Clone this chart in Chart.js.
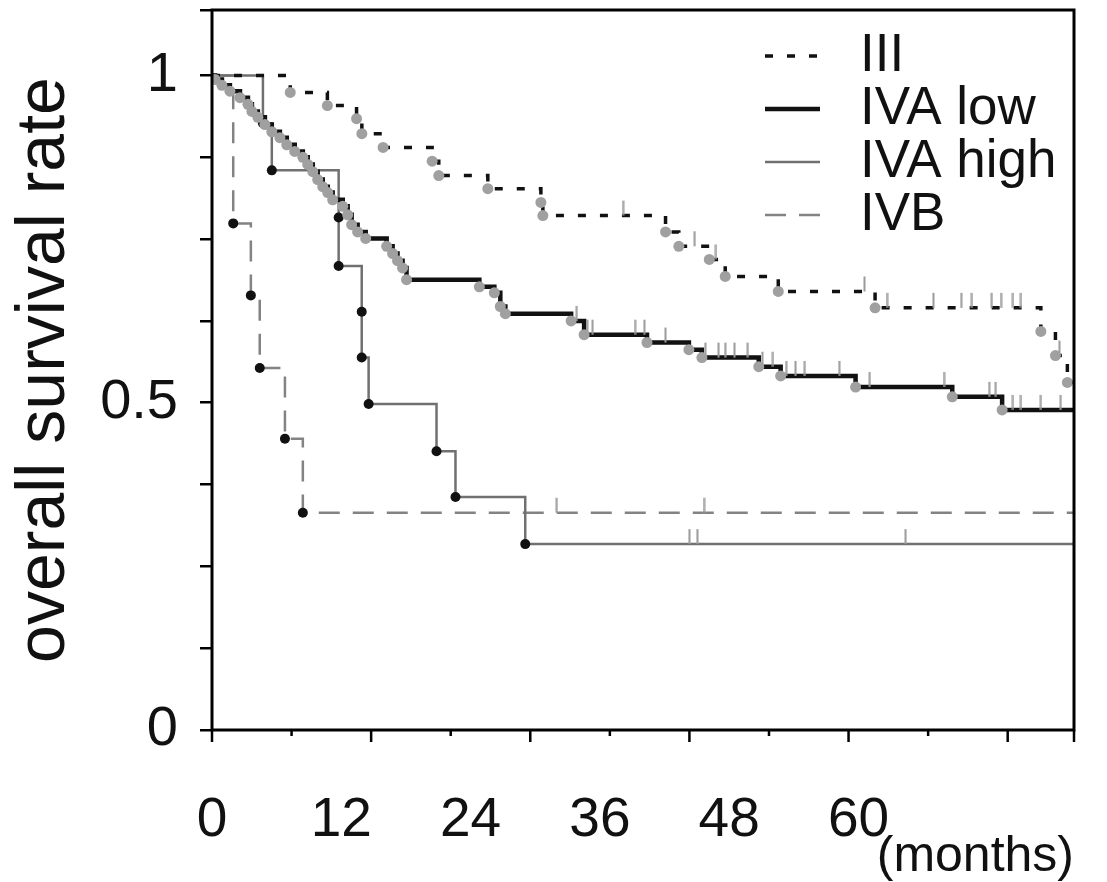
<!DOCTYPE html>
<html lang="en">
<head>
<meta charset="UTF-8">
<title>Overall survival by stage</title>
<script src="https://cdn.jsdelivr.net/npm/chart.js@4"></script>
<style>
  html, body { margin: 0; padding: 0; background: #fff; }
  #wrap { width: 1107px; height: 882px; }
</style>
</head>
<body>
<div id="wrap"><canvas id="km"></canvas></div>
<script>
// event times (months) and survival just after each event
const iiiTime = [5.9, 8.7, 10.9, 11.3, 12.9, 16.6, 17.1, 20.8, 24.8, 24.95, 34.2, 35.2, 37.5, 38.7, 42.7, 50.0, 62.5, 63.6, 64.5];
const iiiSurv = [0.974, 0.954, 0.934, 0.911, 0.890, 0.869, 0.847, 0.827, 0.806, 0.786, 0.761, 0.739, 0.719, 0.693, 0.670, 0.645, 0.609, 0.572, 0.531];
const iiiCensor = [31.0, 36.4, 38.0, 49.2, 50.9, 54.4, 56.5, 57.3, 58.8, 59.5, 60.4, 61.0, 63.9];

const lowTime = [0.23, 0.75, 1.35, 2.11, 2.71, 3.01, 3.46, 3.99, 4.51, 5.12, 5.64, 6.24, 6.85, 7.22, 7.6, 7.97, 8.35, 8.73, 9.1, 9.86,
  10.23, 10.53, 10.98, 11.59, 13.17, 13.62, 13.99, 14.37, 14.67, 20.16, 21.29, 21.74, 22.12, 27.08, 28.06, 32.8, 35.96, 36.94,
  41.23, 42.88, 48.53, 55.82, 59.58];
const lowSurv = [0.994, 0.985, 0.976, 0.966, 0.956, 0.945, 0.936, 0.925, 0.914, 0.905, 0.894, 0.884, 0.875, 0.864, 0.853, 0.841, 0.830, 0.821, 0.810, 0.800,
  0.787, 0.772, 0.761, 0.751, 0.739, 0.728, 0.717, 0.706, 0.688, 0.677, 0.668, 0.647, 0.636, 0.625, 0.604, 0.592, 0.581, 0.569,
  0.555, 0.541, 0.524, 0.509, 0.489];
const lowCensor = [27.5, 28.3, 28.7, 31.9, 32.6, 34.2, 37.2, 38.2, 38.7, 39.4, 40.4, 41.5, 42.3, 43.3, 44.0, 44.7, 47.3, 49.6,
  55.2, 58.6, 59.1, 60.4, 61.0, 62.5, 64.0];

const highTime = [3.84, 4.51, 9.55, 9.55, 11.29, 11.29, 11.81, 16.93, 18.36, 23.62];
const highSurv = [0.927, 0.855, 0.783, 0.709, 0.639, 0.569, 0.498, 0.426, 0.356, 0.284];
const highCensor = [36.0, 36.6, 52.3];

const ivbTime = [1.6, 2.93, 3.6, 5.5, 6.85];
const ivbSurv = [0.774, 0.664, 0.553, 0.445, 0.332];
const ivbCensor = [26.0, 37.1];

const groupNames = ['III', 'IVA low', 'IVA high', 'IVB'];
const xTickLabels = ['0', '12', '24', '36', '48', '60'];
const yTickValues = [0, 0.5, 1];
const yTickLabels = ['0', '0.5', '1'];
const monthTicks = [0, 6, 12, 18, 24, 30, 36, 42, 48, 54, 60, 65];
const followUp = 65;

function stepData(times, surv) {
  const pts = [{x: 0, y: 1}];
  times.forEach((t, i) => pts.push({x: t, y: surv[i]}));
  pts.push({x: followUp, y: surv[surv.length - 1]});
  return pts;
}
function eventData(times, surv) {
  return times.map((t, i) => ({x: t, y: surv[i]}));
}
function survAt(times, surv, t) {
  let s = 1;
  times.forEach((tt, i) => { if (tt <= t) s = surv[i]; });
  return s;
}
function censorData(times, surv, cens) {
  return cens.map(t => ({x: t, y: survAt(times, surv, t)}));
}
function censorMark(color) {
  const c = document.createElement('canvas');
  c.width = 3; c.height = 32;
  const g = c.getContext('2d');
  g.fillStyle = color;
  g.fillRect(0.5, 1, 2, 15);
  return c;
}

const font = '"Liberation Sans", Arial, sans-serif';
const tick = censorMark('#9a9a9a');

function lineSet(label, times, surv, color, width, dash) {
  return {
    label: label, data: stepData(times, surv), stepped: 'before',
    borderColor: color, borderWidth: width, borderDash: dash,
    pointRadius: 0, fill: false, order: 3, isGroup: true
  };
}
function markSet(times, surv, color, r) {
  return {
    data: eventData(times, surv), showLine: false, pointRadius: r,
    pointBackgroundColor: color, pointBorderWidth: 0, order: 1
  };
}
function censSet(times, surv, cens) {
  return {
    data: censorData(times, surv, cens), showLine: false, pointRadius: 8,
    pointStyle: tick, order: 2
  };
}

const datasets = [
  lineSet(groupNames[0], iiiTime, iiiSurv, '#111', 3.5, [8, 14]),
  lineSet(groupNames[1], lowTime, lowSurv, '#111', 4.5, []),
  lineSet(groupNames[2], highTime, highSurv, '#707070', 2.5, []),
  lineSet(groupNames[3], ivbTime, ivbSurv, '#838383', 2.5, [21, 13]),
  markSet(iiiTime, iiiSurv, '#a0a0a0', 5.5),
  markSet(lowTime, lowSurv, '#a0a0a0', 5.5),
  markSet(highTime, highSurv, '#111', 5),
  markSet(ivbTime, ivbSurv, '#111', 5),
  censSet(iiiTime, iiiSurv, iiiCensor),
  censSet(lowTime, lowSurv, lowCensor),
  censSet(highTime, highSurv, highCensor),
  censSet(ivbTime, ivbSurv, ivbCensor)
];

// frame box and month ticks (long every 12 months)
const frame = {
  id: 'frame',
  afterDraw(chart) {
    const {ctx, chartArea: a} = chart;
    const x = chart.scales.x;
    ctx.save();
    ctx.strokeStyle = '#000';
    ctx.lineWidth = 2.5;
    monthTicks.forEach(m => {
      const px = x.getPixelForValue(m);
      const len = (m % 12 === 0 || m === followUp) ? 12 : 6;
      ctx.beginPath();
      ctx.moveTo(px, a.bottom);
      ctx.lineTo(px, a.bottom + len);
      ctx.stroke();
    });
    ctx.lineWidth = 3;
    ctx.strokeRect(a.left, a.top, a.right - a.left, a.bottom - a.top);
    ctx.restore();
  }
};

// legend in the upper right of the plot
const innerLegend = {
  id: 'innerLegend',
  afterDatasetsDraw(chart) {
    const {ctx, chartArea: a} = chart;
    ctx.save();
    ctx.font = '53px ' + font;
    ctx.fillStyle = '#111';
    ctx.textBaseline = 'middle';
    chart.data.datasets.filter(d => d.isGroup).forEach((d, i) => {
      const y = a.top + 46 + i * 53;
      ctx.strokeStyle = d.borderColor;
      ctx.lineWidth = d.borderWidth;
      ctx.setLineDash(d.borderDash);
      ctx.beginPath();
      ctx.moveTo(a.right - 309, y);
      ctx.lineTo(a.right - 254, y);
      ctx.stroke();
      ctx.setLineDash([]);
      ctx.fillText(d.label, a.right - 214, y);
    });
    ctx.restore();
  }
};

new Chart(document.getElementById('km'), {
  type: 'line',
  data: {datasets: datasets},
  options: {
    responsive: true,
    maintainAspectRatio: false,
    animation: false,
    events: [],
    layout: {padding: {top: 10, right: 33, left: 0, bottom: 0}},
    plugins: {legend: {display: false}, tooltip: {enabled: false}},
    scales: {
      x: {type: 'linear', min: 0, max: followUp, display: false},
      xl: {
        type: 'linear', position: 'bottom', min: 0, max: 80,
        grid: {display: false}, border: {display: false},
        ticks: {
          stepSize: 12, autoSkip: false, maxRotation: 0, padding: 50,
          color: '#111', font: {family: font, size: 55},
          callback: v => xTickLabels[v / 12] ?? ''
        },
        title: {
          display: true, text: '(months)', align: 'end', color: '#111',
          font: {family: font, size: 50, lineHeight: 1}, padding: {top: 0, bottom: 0}
        },
        afterFit: s => { s.height = 152; s.paddingLeft = 0; s.paddingRight = 0; }
      },
      y: {
        type: 'linear', min: 0, max: 1.1,
        grid: {drawOnChartArea: false, tickLength: 12, color: '#000', lineWidth: 2.5},
        border: {display: false},
        ticks: {
          stepSize: 0.125, autoSkip: false, padding: 22, color: '#111',
          font: {family: font, size: 56},
          callback: v => {
            const k = yTickValues.findIndex(t => Math.abs(t - v) < 1e-6);
            return k >= 0 ? yTickLabels[k] : '';
          }
        },
        title: {
          display: true, text: 'overall survival rate', color: '#111',
          font: {family: font, size: 68, lineHeight: 1}, padding: {top: 11, bottom: 0}
        },
        afterFit: s => { s.width = 212; s.paddingTop = 0; s.paddingBottom = 0; }
      }
    }
  },
  plugins: [frame, innerLegend]
});
</script>
</body>
</html>
